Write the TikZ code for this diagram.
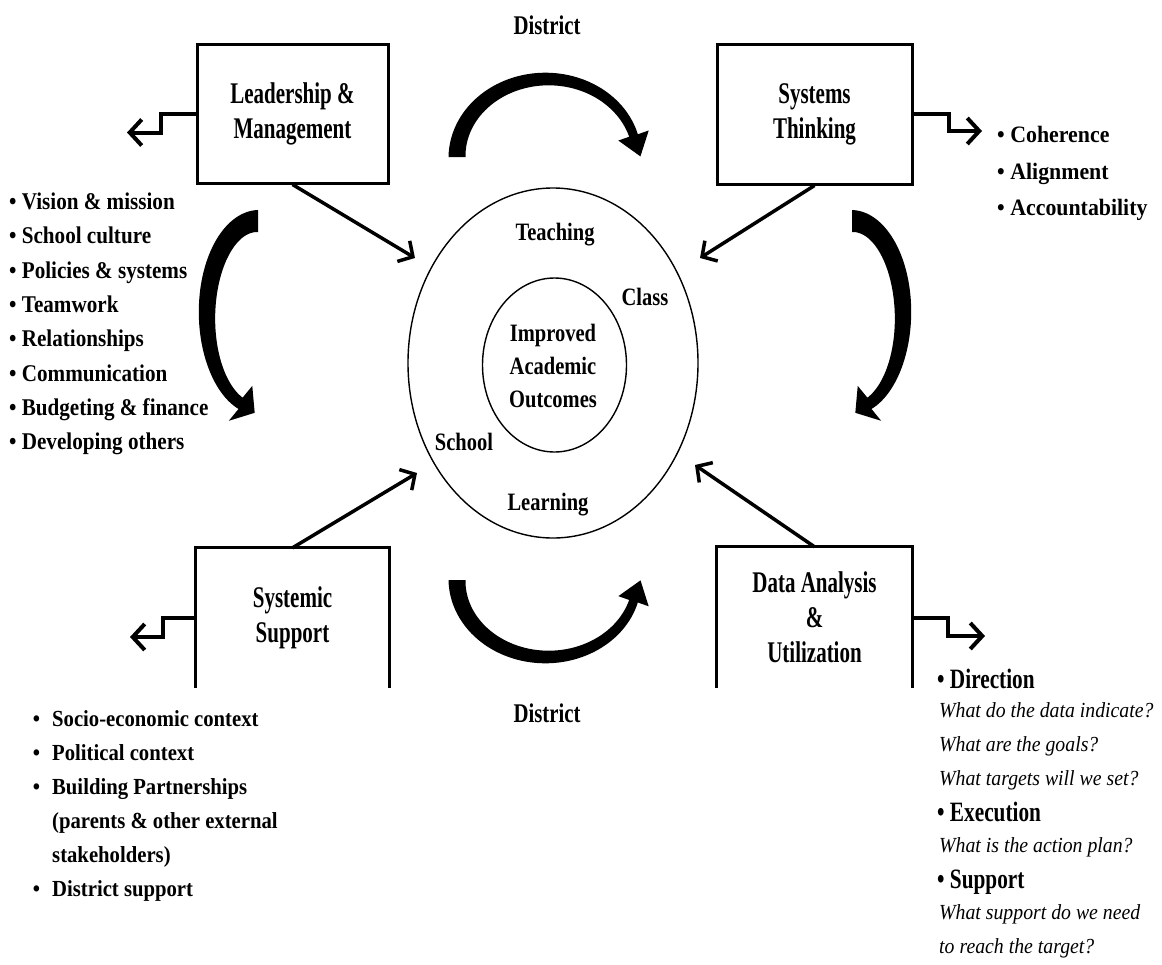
\documentclass[tikz,border=0pt]{standalone}
\usepackage{fontspec}
\setmainfont{Liberation Serif}
\newfontfamily\fBox[FakeStretch=0.70]{Liberation Serif}
\newfontfamily\fMid[FakeStretch=0.82]{Liberation Serif}
\newfontfamily\fList[FakeStretch=0.88]{Liberation Serif}
\newfontfamily\fListR[FakeStretch=0.93]{Liberation Serif}
\newfontfamily\fListB[FakeStretch=0.90]{Liberation Serif}
\newfontfamily\fDist[FakeStretch=0.77]{Liberation Serif}
\newfontfamily\fHead[FakeStretch=0.76]{Liberation Serif}
\newfontfamily\fIt[FakeStretch=0.92]{Liberation Serif}
\usetikzlibrary{shapes.geometric,arrows.meta}
\newcommand\tarrow[8]{%
  \pgfmathsetmacro\sgn{((#6)>(#5))*2-1}%
  \pgfmathsetmacro\bx{#1+#3*cos(#6)}%
  \pgfmathsetmacro\by{#2-#4*sin(#6)}%
  \pgfmathsetmacro\tx{-\sgn*#3*sin(#6)}%
  \pgfmathsetmacro\ty{-\sgn*#4*cos(#6)}%
  \pgfmathsetmacro\tn{veclen(\tx,\ty)}%
  \pgfmathsetmacro\nx{#4*cos(#6)}%
  \pgfmathsetmacro\ny{-#3*sin(#6)}%
  \pgfmathsetmacro\nn{veclen(\nx,\ny)}%
  \fill plot[domain=#5:#6,samples=60,variable=\q]
      ({#1+(#3+(#7+(#8-#7)*(\q-(#5))/((#6)-(#5)))/2)*cos(\q)},{#2-(#4+(#7+(#8-#7)*(\q-(#5))/((#6)-(#5)))/2)*sin(\q)})
    -- ({\bx+\HW*\nx/\nn},{\by+\HW*\ny/\nn})
    -- ({\bx+\HL*\tx/\tn},{\by+\HL*\ty/\tn})
    -- ({\bx-\HW*\nx/\nn},{\by-\HW*\ny/\nn})
    -- plot[domain=#6:#5,samples=60,variable=\q]
      ({#1+(#3-(#7+(#8-#7)*(\q-(#5))/((#6)-(#5)))/2)*cos(\q)},{#2-(#4-(#7+(#8-#7)*(\q-(#5))/((#6)-(#5)))/2)*sin(\q)})
    -- cycle;
}
\tikzset{
  boxn/.style={draw, line width=3pt, inner sep=0pt, align=center,
    font={\fBox\bfseries\fontsize{30}{35}\selectfont}},
  openbox/.style={inner sep=0pt, align=center,
    font={\fBox\bfseries\fontsize{30}{35}\selectfont}},
  mid/.style={inner sep=0pt, align=center,
    font={\fMid\bfseries\fontsize{25}{33}\selectfont}},
  dist/.style={inner sep=0pt, font={\fDist\bfseries\fontsize{27}{30}\selectfont}},
  lstL/.style={inner sep=0pt, anchor=base west, font={\fList\bfseries\fontsize{24}{27}\selectfont}},
  lstR/.style={inner sep=0pt, anchor=base west, font={\fListR\bfseries\fontsize{23.5}{27}\selectfont}},
  lstB/.style={inner sep=0pt, anchor=base west, font={\fListB\bfseries\fontsize{23}{27}\selectfont}},
  headR/.style={inner sep=0pt, anchor=base west, font={\fHead\bfseries\fontsize{28}{32}\selectfont}},
  itR/.style={inner sep=0pt, anchor=base west, font={\fIt\itshape\fontsize{21.5}{24}\selectfont}},
  thinarr/.style={line width=3.5pt, -{Straight Barb[length=11pt,width=24pt]}},
  elbow/.style={line width=4pt, -{Straight Barb[length=12pt,width=26pt]}},
  ring/.style={ellipse, draw, line width=1.4pt, inner sep=0pt}
}
\begin{document}
\begin{tikzpicture}[x=1pt,y=-1pt]
\useasboundingbox (0,0) rectangle (1162,964);
% center rings
\node[ring, minimum width=290pt, minimum height=350pt] (outer) at (553,363) {};
\node[ring, minimum width=144pt, minimum height=174pt] (inner) at (554.5,365) {};
\node[mid] (teach) at (555,235) {Teaching};
\node[mid] (class) at (645,297) {Class};
\node[mid] (imp) at (553,366) {Improved\\Academic\\Outcomes};
\node[mid] (school) at (464,442) {School};
\node[mid] (learn) at (548,505) {Learning};
% District labels
\node[dist] (dtop) at (547,25) {District};
\node[dist] (dbot) at (547,713) {District};
% boxes
\node[boxn, minimum width=191pt, minimum height=139pt] (lead) at (292.5,113.5) {Leadership \&\\Management};
\node[boxn, minimum width=195pt, minimum height=140pt] (sys) at (814.5,114) {Systems\\Thinking};
\node[openbox, minimum width=193pt, minimum height=140pt] (supp) at (292.5,618) {Systemic\\Support};
\node[openbox, minimum width=195pt, minimum height=141pt] (data) at (814.5,617.5) {Data Analysis\\\&\\Utilization};
\draw[line width=3pt] (supp.south west) -- (supp.north west) -- (supp.north east) -- (supp.south east);
\draw[line width=3pt] (data.south west) -- (data.north west) -- (data.north east) -- (data.south east);
% thin arrows to ring
\coordinate (tipL) at (415,258);
\coordinate (tipS) at (700,258);
\coordinate (tipP) at (417,473);
\coordinate (tipD) at (695,465);
\draw[thinarr] (lead.south) -- (tipL);
\draw[thinarr] (sys.south) -- (tipS);
\draw[thinarr] (supp.north) -- (tipP);
\draw[thinarr] (data.north) -- (tipD);
% elbow arrows
\coordinate (eL) at (127,132.5);
\coordinate (eS) at (982,131);
\coordinate (eP) at (130,637);
\coordinate (eD) at (985,636);
\draw[elbow] (lead.west) -- ++(-35,0) |- (eL);
\draw[elbow] (sys.east) -- ++(35,0) |- (eS);
\draw[elbow] (supp.west) -- ++(-33,0) |- (eP);
\draw[elbow] (data.east) -- ++(36,0) |- (eD);
% curved block arrows
\def\HL{22}\def\HW{16}
\tarrow{547}{157}{90}{78}{180}{16}{17}{9}
\tarrow{547}{580}{90}{77}{180}{344}{17}{9}
\def\HL{17}\def\HW{21}
\tarrow{258}{315}{51}{94}{90}{250}{22}{12}
\tarrow{852}{315}{51}{94}{90}{-70}{22}{12}
% left list
\foreach \t [count=\i from 0] in {Vision \& mission, School culture, Policies \& systems, Teamwork, Relationships, Communication, Budgeting \& finance, Developing others}
  \node[lstL] (ll\i) at (9,{209.5+34.3*\i}) {• \t};
% right list
\foreach \t [count=\i from 0] in {Coherence, Alignment, Accountability}
  \node[lstR] (rl\i) at (997,{142.5+36.5*\i}) {• \t};
% bottom-left list
\node[lstB] (b0) at (52,726) {\llap{•\hspace{12pt}}Socio-economic context};
\node[lstB] (b1) at (52,760) {\llap{•\hspace{12pt}}Political context};
\node[lstB] (b2) at (52,794) {\llap{•\hspace{12pt}}Building Partnerships};
\node[lstB] (b3) at (52,828) {(parents \& other external};
\node[lstB] (b4) at (52,862) {stakeholders)};
\node[lstB] (b5) at (52,896) {\llap{•\hspace{12pt}}District support};
% bottom-right list
\node[headR] (h0) at (937,688) {• Direction};
\node[itR] (q0) at (939,717.5) {What do the data indicate?};
\node[itR] (q1) at (939,751.5) {What are the goals?};
\node[itR] (q2) at (939,785.5) {What targets will we set?};
\node[headR] (h1) at (937,821) {• Execution};
\node[itR] (q3) at (939,852.5) {What is the action plan?};
\node[headR] (h2) at (937,888) {• Support};
\node[itR] (q4) at (939,919.5) {What support do we need};
\node[itR] (q5) at (939,953.5) {to reach the target?};
\end{tikzpicture}
\end{document}
